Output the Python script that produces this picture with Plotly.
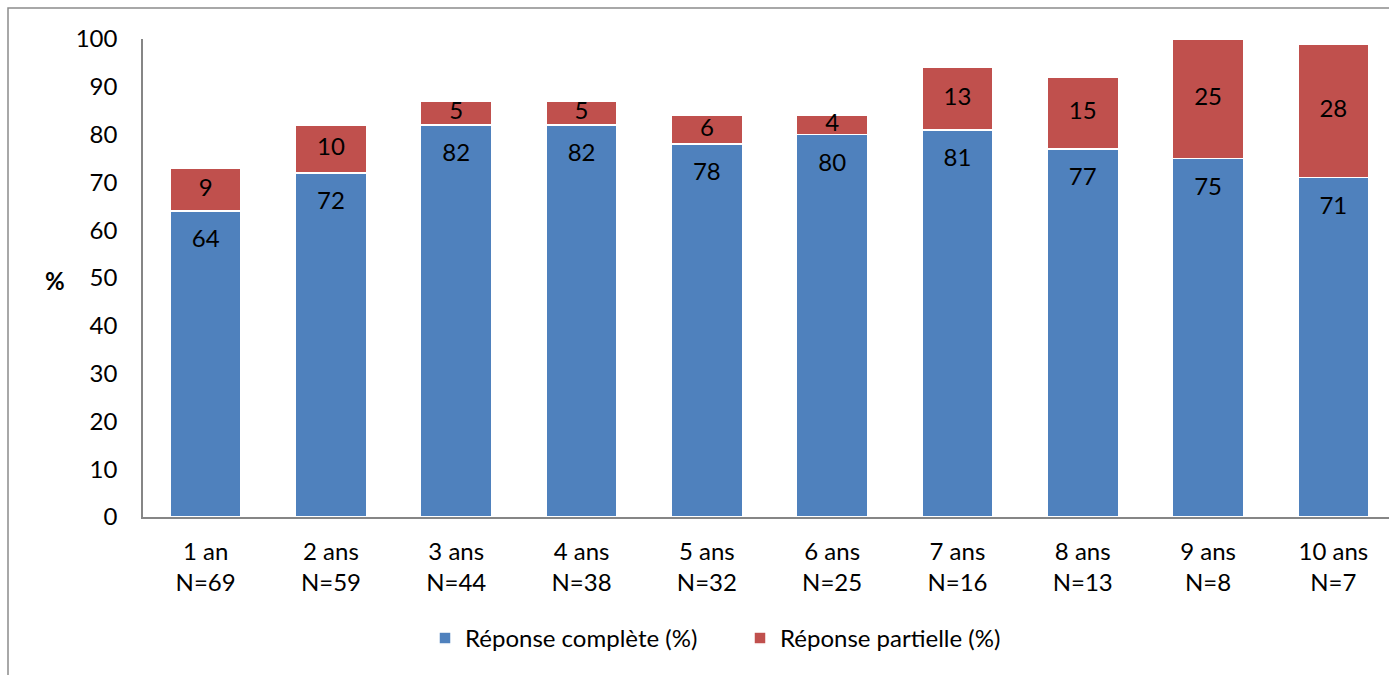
import plotly.graph_objects as go

# Durée de suivi et effectif à chaque palier
periods = ["1 an", "2 ans", "3 ans", "4 ans", "5 ans", "6 ans", "7 ans", "8 ans", "9 ans", "10 ans"]
n_patients = [69, 59, 44, 38, 32, 25, 16, 13, 8, 7]

# Pourcentages de réponse
complete = [64, 72, 82, 82, 78, 80, 81, 77, 75, 71]
partial = [9, 10, 5, 5, 6, 4, 13, 15, 25, 28]

BLUE = "#4F81BD"
RED = "#C0504D"
FONT = "Lato, 'Open Sans', sans-serif"
FS = 24

x_idx = list(range(len(periods)))
tick_text = [f"{p}<br>N={n}" for p, n in zip(periods, n_patients)]

fig = go.Figure()
fig.add_bar(x=x_idx, y=complete, name="Réponse complète (%)",
            marker=dict(color=BLUE, line=dict(color="white", width=1.5)))
fig.add_bar(x=x_idx, y=partial, name="Réponse partielle (%)",
            marker=dict(color=RED, line=dict(color="white", width=1.5)))

# Étiquettes : haut du segment bleu, centre du segment rouge
blue_lbl_y = [c - 6.3 for c in complete]
red_lbl_y = [c + p / 2 for c, p in zip(complete, partial)]
fig.add_scatter(x=x_idx, y=blue_lbl_y, text=[str(v) for v in complete], mode="text",
                textfont=dict(family=FONT, size=FS, color="black"),
                showlegend=False, hoverinfo="skip", cliponaxis=False)
fig.add_scatter(x=x_idx, y=red_lbl_y, text=[str(v) for v in partial], mode="text",
                textfont=dict(family=FONT, size=FS, color="black"),
                showlegend=False, hoverinfo="skip", cliponaxis=False)

L, T, B = 143, 39, 158
W, H = 1420, 675
PW = 1253
PH = H - T - B

def px_x(px):
    return (px - L) / PW

def px_y(py):
    return (H - B - py) / PH

fig.update_layout(
    width=W, height=H, autosize=False,
    margin=dict(l=L, r=W - L - PW, t=T, b=B),
    barmode="stack", bargap=0.433,
    plot_bgcolor="white", paper_bgcolor="white",
    font=dict(family=FONT, size=FS, color="black"),
    xaxis=dict(tickmode="array", tickvals=x_idx, ticktext=tick_text,
               range=[-0.5, len(periods) - 0.5],
               showline=True, linecolor="#868686", linewidth=1.5,
               showgrid=False, ticks="", ticklabelstandoff=12),
    yaxis=dict(range=[0, 100], dtick=10, showline=True, linecolor="#868686",
               linewidth=1.5, showgrid=False, zeroline=False, ticks="",
               ticklabelstandoff=19),
    legend=dict(orientation="h", x=px_x(425), y=px_y(616), xanchor="left",
                yanchor="top", font=dict(family=FONT, size=FS),
                entrywidth=270, entrywidthmode="pixels",
                traceorder="normal", itemclick=False),
    shapes=[dict(type="rect", xref="paper", yref="paper",
                 x0=px_x(8), x1=px_x(1460), y0=px_y(700), y1=px_y(8),
                 line=dict(color="#8C8C8C", width=1.5), layer="below")],
    annotations=[dict(text="<b>%</b>", xref="paper", yref="paper",
                      x=px_x(55), y=px_y(280), xanchor="center", yanchor="middle",
                      showarrow=False,
                      font=dict(family=FONT, size=FS, color="black"))],
)

fig.write_html("out.html")
